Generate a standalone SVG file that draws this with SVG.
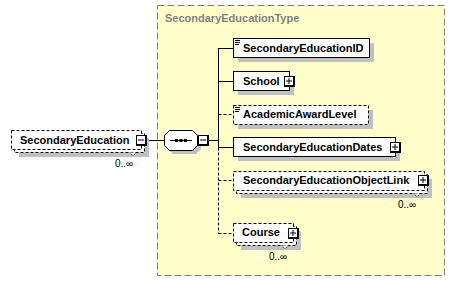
<svg xmlns="http://www.w3.org/2000/svg" width="455" height="281" viewBox="0 0 455 281">
  <style>
    .label { font-family: "Liberation Sans", Arial, sans-serif; font-size: 11px; font-weight: bold; fill: #000; }
    .title { font-family: "Liberation Sans", Arial, sans-serif; font-size: 11px; font-weight: bold; fill: #808080; }
    .occ { font-family: "Liberation Sans", Arial, sans-serif; font-size: 10px; fill: #000; }
    .box { fill: #fff; stroke: #000; stroke-width: 1; }
    .opt { fill: #fff; stroke: #000; stroke-width: 1; stroke-dasharray: 3 2; }
    .shadow { fill: #c0c0c0; }
    .wire { fill: none; stroke: #000; stroke-width: 1; }
    .wire-opt { fill: none; stroke: #000; stroke-width: 1; stroke-dasharray: 3 2; }
    .notch { fill: #fff; stroke: #000; stroke-width: 1; stroke-dasharray: 1 1; }
    .glyph { stroke: #000; stroke-width: 1; }
  </style>
  <defs>
    <!-- expand / collapse buttons -->
    <g id="minus">
      <rect x="0" y="0" width="11" height="11" fill="#000"/>
      <rect x="1" y="1" width="8" height="8" fill="#fff"/>
      <line class="glyph" x1="2" y1="5" x2="8" y2="5"/>
    </g>
    <g id="plus">
      <rect x="0" y="0" width="11" height="11" fill="#000"/>
      <rect x="1" y="1" width="8" height="8" fill="#fff"/>
      <line class="glyph" x1="2" y1="5" x2="8" y2="5"/>
      <line class="glyph" x1="5" y1="2" x2="5" y2="8"/>
    </g>
    <!-- simple-content marker -->
    <g id="simple">
      <line class="glyph" x1="0" y1="0.5" x2="5" y2="0.5"/>
      <line class="glyph" x1="0" y1="2.5" x2="5" y2="2.5"/>
      <line class="glyph" x1="0" y1="4.5" x2="4" y2="4.5"/>
    </g>
  </defs>

  <!-- complex type container -->
  <g id="SecondaryEducationType">
    <rect x="157.5" y="5.5" width="287" height="270" fill="#ffffcc" stroke="#808080" stroke-width="1" stroke-dasharray="7 3"/>
    <text class="title" x="165" y="22">SecondaryEducationType</text>
  </g>

  <!-- connectors -->
  <g id="connectors">
    <line class="wire" x1="146" y1="140.5" x2="164" y2="140.5"/>
    <line class="wire" x1="208" y1="140.5" x2="218.5" y2="140.5"/>
    <line class="wire" x1="218.5" y1="48" x2="218.5" y2="147.5"/>
    <line class="wire-opt" x1="218.5" y1="147.5" x2="218.5" y2="234"/>
    <line class="wire" x1="218.5" y1="48.5" x2="233" y2="48.5"/>
    <line class="wire" x1="218.5" y1="81.5" x2="233" y2="81.5"/>
    <line class="wire-opt" x1="218.5" y1="114.5" x2="233" y2="114.5"/>
    <line class="wire" x1="218.5" y1="147.5" x2="233" y2="147.5"/>
    <line class="wire-opt" x1="218.5" y1="180.5" x2="233" y2="180.5"/>
    <line class="wire-opt" x1="218.5" y1="233.5" x2="233" y2="233.5"/>
  </g>

  <!-- root element -->
  <g id="SecondaryEducation">
    <rect class="shadow" x="19" y="138" width="130" height="19"/>
    <rect class="opt" x="14.5" y="133.5" width="130" height="19"/>
    <rect class="opt" x="11.5" y="130.5" width="130" height="19"/>
    <polyline class="notch" points="130,152.5 133,156 136,152.5"/>
    <text class="label" x="20" y="144">SecondaryEducation</text>
    <use href="#minus" x="136" y="135"/>
    <text class="occ" x="115" y="167">0..∞</text>
  </g>

  <!-- sequence compositor -->
  <g id="sequence">
    <polygon class="shadow" points="173,134 196,134 201,139 201,149 196,154 173,154 168,149 168,139"/>
    <polygon class="box" points="169.5,130.5 192.5,130.5 197.5,135.5 197.5,145.5 192.5,150.5 169.5,150.5 164.5,145.5 164.5,135.5"/>
    <line class="glyph" x1="170" y1="140.5" x2="192" y2="140.5"/>
    <rect x="175" y="139" width="3" height="3" fill="#000"/>
    <rect x="179.5" y="139" width="3" height="3" fill="#000"/>
    <rect x="184" y="139" width="3" height="3" fill="#000"/>
    <use href="#minus" x="198" y="135"/>
  </g>

  <g id="SecondaryEducationID">
    <rect class="shadow" x="238" y="43" width="136" height="19"/>
    <rect class="box" x="233.5" y="38.5" width="136" height="19"/>
    <use href="#simple" x="235" y="40"/>
    <text class="label" x="243" y="52">SecondaryEducationID</text>
  </g>

  <g id="School">
    <rect class="shadow" x="238" y="76" width="56" height="19"/>
    <rect class="box" x="233.5" y="71.5" width="56" height="19"/>
    <text class="label" x="243" y="85">School</text>
    <use href="#plus" x="284" y="76"/>
  </g>

  <g id="AcademicAwardLevel">
    <rect class="shadow" x="238" y="110" width="135" height="19"/>
    <rect class="opt" x="233.5" y="105.5" width="135" height="19"/>
    <use href="#simple" x="235" y="107"/>
    <text class="label" x="243" y="118">AcademicAwardLevel</text>
  </g>

  <g id="SecondaryEducationDates">
    <rect class="shadow" x="238" y="142" width="162" height="19"/>
    <rect class="box" x="233.5" y="137.5" width="162" height="19"/>
    <text class="label" x="243" y="151">SecondaryEducationDates</text>
    <use href="#plus" x="390" y="142"/>
  </g>

  <g id="SecondaryEducationObjectLink">
    <rect class="shadow" x="241" y="179" width="191" height="19"/>
    <rect class="opt" x="236.5" y="174.5" width="191" height="19"/>
    <rect class="opt" x="233.5" y="171.5" width="191" height="19"/>
    <polyline class="notch" points="414,193.5 417,197 420,193.5"/>
    <text class="label" x="243" y="184">SecondaryEducationObjectLink</text>
    <use href="#plus" x="418" y="175"/>
    <text class="occ" x="398" y="208">0..∞</text>
  </g>

  <g id="Course">
    <rect class="shadow" x="241" y="231" width="60" height="19"/>
    <rect class="opt" x="236.5" y="226.5" width="60" height="19"/>
    <rect class="opt" x="233.5" y="223.5" width="60" height="19"/>
    <polyline class="notch" points="282,245.5 285,249 288,245.5"/>
    <text class="label" x="242" y="236">Course</text>
    <use href="#plus" x="288" y="228"/>
    <text class="occ" x="269" y="260">0..∞</text>
  </g>
</svg>
